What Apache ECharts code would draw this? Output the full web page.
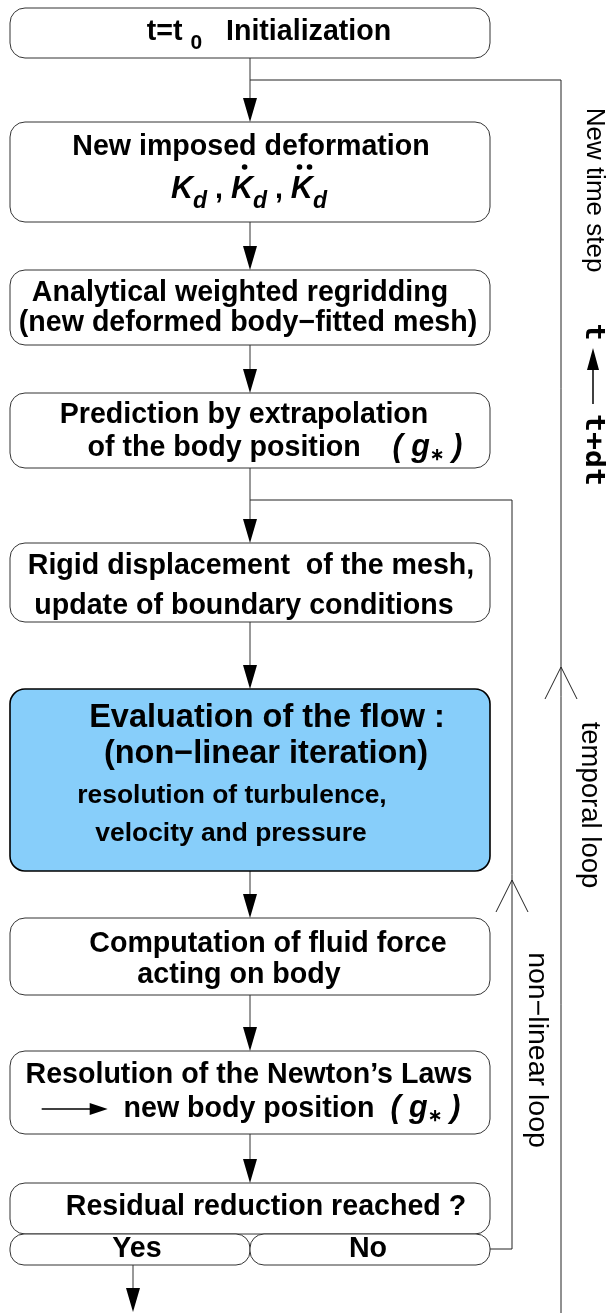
<!DOCTYPE html>
<html><head><meta charset="utf-8">
<script src="https://cdn.jsdelivr.net/npm/echarts@6/dist/echarts.min.js"></script>
<style>html,body{margin:0;padding:0;background:#fff}#c{width:608px;height:1313px}</style>
</head><body><div id="c"></div>
<script>
// ---------------- data ----------------
// each box: list of lines; each line: list of [text, style, dots]
const stepLines = [
  [[["t=t ","b"],["0","sub"],["   Initialization","b"]]],
  [[["New imposed deformation","b"]],
   [["K","mi"],["d","msub"],[" , ","b"],["K","mi",1],["d","msub"],[" , ","b"],["K","mi",2],["d","msub"]]],
  [[["Analytical weighted regridding","b"]],[["(new deformed body\u2212fitted mesh)","b"]]],
  [[["Prediction by extrapolation","b"]],[["of the body position    ","b"],["( ","mi"],["g","mi"],["\u2217","ast"],[" )","mi"]]],
  [[["Rigid displacement  of the mesh,","b"]],[["update of boundary conditions","b"]]],
  [[["Evaluation of the flow :","B"]],[["(non\u2212linear iteration)","B"]],[["resolution of turbulence,","s"]],[["velocity and pressure","s"]]],
  [[["Computation of fluid force","b"]],[["acting on body","b"]]],
  [[["Resolution of the Newton\u2019s Laws","b"]],[["","arrow"],["  new body position  ","b"],["( ","mi"],["g","mi"],["\u2217","ast"],[" )","mi"]]],
  [[["Residual reduction reached ?","b"]]]
];
const branchLabels = ["Yes","No"];
const loopLabels = ["New time step","temporal loop","non\u2212linear loop"];
const timeUpdate = ["t","t+dt"];

// ---------------- layout ----------------
const boxTop=[8,122,270,393,543,689,918,1051,1183];
const boxBot=[58,222,345,468,622,871,995,1134,1234];
const lineYs=[[32],[147,190],[293,323],[415,448],[566,606],[718,754,796,834],[944,975],[1075,1109],[1207]];
const lineCX=[[269],[251,249],[240,248],[244,275],[251,244],[267,266,232,231],[268,239],[249,251],[266]];
const BOX_L=10, BOX_R=490, MAIN_X=250, RAD=15;
const branchBox=[[10,250],[250,490]], BR_TOP=1234, BR_BOT=1265, branchCX=[137,368];
const temporalPath=[[250,80],[561,80],[561,1313]];
const nonlinPath=[[250,500],[512,500],[512,1249],[490,1249]];
const openHeads=[[561,667],[512,880]];
const yesArrow=[[133,1265],[133,1312]];
const SX=1.0;
const FAM="'Liberation Sans', Arial, sans-serif";
const ST={
  b:{size:28.6,weight:'bold',style:'normal',dy:0},
  B:{size:32.5,weight:'bold',style:'normal',dy:0},
  s:{size:26.4,weight:'bold',style:'normal',dy:0},
  sub:{size:21,weight:'bold',style:'normal',dy:11},
  mi:{size:30.5,weight:'bold',style:'italic',dy:0},
  msub:{size:23,weight:'bold',style:'italic',dy:12},
  ast:{size:17,weight:'bold',style:'normal',dy:7}
};
const mctx=document.createElement('canvas').getContext('2d');
function fontStr(s){return s.style+' '+s.weight+' '+s.size+'px '+FAM;}
function measure(t,s){mctx.font=fontStr(s);return mctx.measureText(t).width*SX;}

function lineElements(api,frags,cx,cy){
  const els=[];
  const widths=frags.map(f=>f[1]==='arrow'?66:measure(f[0],ST[f[1]]));
  const total=widths.reduce((a,b)=>a+b,0);
  let x=cx-total/2;
  frags.forEach((f,k)=>{
    const p=api.coord([x,cy]);
    if(f[1]==='arrow'){
      const e=api.coord([x+66,cy]);
      els.push({type:'line',shape:{x1:p[0],y1:p[1],x2:e[0]-14,y2:e[1]},style:{stroke:'#000',lineWidth:1.5}});
      els.push({type:'polygon',shape:{points:[[e[0]-18,e[1]-6],[e[0],e[1]],[e[0]-18,e[1]+6]]},style:{fill:'#000'}});
    } else {
      const s=ST[f[1]];
      els.push({type:'text',x:p[0],y:p[1]+s.dy,scaleX:SX,style:{text:f[0],fontSize:s.size,fontWeight:s.weight,fontStyle:s.style,fontFamily:FAM,fill:'#000',align:'left',verticalAlign:'middle'}});
      if(f[2]){
        const dx=widths[k]*0.62;
        const offs=f[2]===1?[0]:[-5,5];
        offs.forEach(o=>els.push({type:'circle',shape:{cx:p[0]+dx+o,cy:p[1]-23,r:2.8},style:{fill:'#000'}}));
      }
    }
    x+=widths[k];
  });
  return els;
}

function renderBox(params,api){
  const i=api.value(0);
  const a=api.coord([BOX_L,boxTop[i]]), b=api.coord([BOX_R,boxBot[i]]);
  const blue=(i===5);
  const children=[{type:'rect',shape:{x:a[0],y:a[1],width:b[0]-a[0],height:b[1]-a[1],r:RAD},
    style:{fill:blue?'#87CEFA':'#fff',stroke:blue?'#000':'#333',lineWidth:blue?1.6:1}}];
  stepLines[i].forEach((ln,j)=>{children.push(...lineElements(api,ln,lineCX[i][j],lineYs[i][j]));});
  return {type:'group',children};
}
function renderBranch(params,api){
  const i=api.value(0);
  const a=api.coord([branchBox[i][0],BR_TOP]), b=api.coord([branchBox[i][1],BR_BOT]);
  const c=api.coord([branchCX[i],(BR_TOP+BR_BOT)/2]);
  return {type:'group',children:[
    {type:'rect',shape:{x:a[0],y:a[1],width:b[0]-a[0],height:b[1]-a[1],r:14},style:{fill:'#fff',stroke:'#333',lineWidth:1}},
    {type:'text',x:c[0],y:c[1],scaleX:SX,style:{text:branchLabels[i],fontSize:28.6,fontWeight:'bold',fontFamily:FAM,fill:'#000',align:'center',verticalAlign:'middle'}}
  ]};
}
function filledArrow(api,from,to){
  const p=api.coord(from), q=api.coord(to);
  return [
    {type:'line',shape:{x1:p[0],y1:p[1],x2:q[0],y2:q[1]-20},style:{stroke:'#333',lineWidth:1}},
    {type:'polygon',shape:{points:[[q[0]-7,q[1]-24],[q[0]+7,q[1]-24],[q[0],q[1]]]},style:{fill:'#000'}}
  ];
}
function renderEdge(params,api){
  const i=api.value(0);
  return {type:'group',children:filledArrow(api,[MAIN_X,boxBot[i]],[MAIN_X,boxTop[i+1]])};
}
function renderLoops(params,api){
  const ch=[];
  [temporalPath,nonlinPath].forEach(path=>{
    ch.push({type:'polyline',shape:{points:path.map(pt=>api.coord(pt))},style:{stroke:'#222',lineWidth:1,fill:null}});
  });
  openHeads.forEach(h=>{
    const t=api.coord(h);
    ch.push({type:'polyline',shape:{points:[[t[0]-16,t[1]+32],[t[0],t[1]],[t[0]+16,t[1]+32]]},style:{stroke:'#222',lineWidth:1,fill:null}});
  });
  ch.push(...filledArrow(api,yesArrow[0],yesArrow[1]));
  // rotated labels
  const lab=(txt,x,y,size,fam,weight,sc)=>{const p=api.coord([x,y]);
    return {type:'text',x:p[0],y:p[1],rotation:-Math.PI/2,scaleX:sc||1,style:{text:txt,fontSize:size,fontFamily:fam,fontWeight:weight||'normal',fill:'#000',align:'center',verticalAlign:'middle'}};};
  ch.push(lab(loopLabels[0],594,190,26,FAM));
  ch.push(lab(loopLabels[1],590,805,27.5,FAM));
  ch.push(lab(loopLabels[2],537,1050,28.5,FAM));
  ch.push(lab(timeUpdate[0],593,332,26,"'DejaVu Sans Mono', monospace",'bold',1.1));
  ch.push(lab(timeUpdate[1],593,450,26,"'DejaVu Sans Mono', monospace",'bold',1.15));
  const a1=api.coord([593,348]), a2=api.coord([593,404]);
  ch.push({type:'line',shape:{x1:a1[0],y1:a1[1]+18,x2:a2[0],y2:a2[1]},style:{stroke:'#000',lineWidth:1.5}});
  ch.push({type:'polygon',shape:{points:[[a1[0]-6,a1[1]+22],[a1[0],a1[1]],[a1[0]+6,a1[1]+22]]},style:{fill:'#000'}});
  return {type:'group',children:ch};
}

const chart=echarts.init(document.getElementById('c'),null,{renderer:'canvas'});
chart.setOption({
  animation:false,
  grid:{left:0,right:0,top:0,bottom:0},
  xAxis:{type:'value',min:0,max:608,show:false},
  yAxis:{type:'value',min:0,max:1313,inverse:true,show:false},
  series:[
    {type:'custom',clip:false,renderItem:renderLoops,data:[[0]],z:1},
    {type:'custom',clip:false,renderItem:renderEdge,data:stepLines.slice(0,-1).map((_,i)=>[i]),z:2},
    {type:'custom',clip:false,renderItem:renderBox,data:stepLines.map((_,i)=>[i]),z:3},
    {type:'custom',clip:false,renderItem:renderBranch,data:branchLabels.map((_,i)=>[i]),z:3}
  ]
});
</script></body></html>
